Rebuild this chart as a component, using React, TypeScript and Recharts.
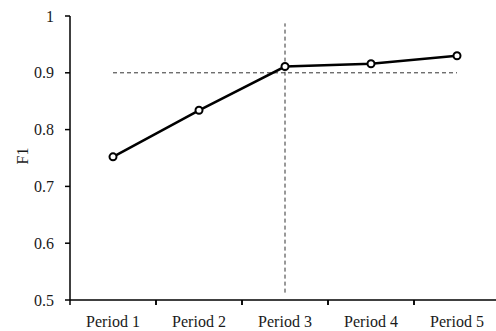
import React from 'react';
import { LineChart, Line, XAxis, YAxis, ReferenceLine } from 'recharts';

const categories = ['Period 1', 'Period 2', 'Period 3', 'Period 4', 'Period 5'];
const f1Values = [0.752, 0.834, 0.911, 0.916, 0.93];
const yTicks = [0.5, 0.6, 0.7, 0.8, 0.9, 1];
const thresholdY = 0.9;
const markerCategory = 'Period 3';
const markerRange = [0.513, 0.987];

const data = categories.map((c, i) => ({ period: c, f1: f1Values[i] }));

const FONT = 'Liberation Serif, Times New Roman, serif';

const XTick = (props: any) => {
  const { x, y, payload } = props;
  const off = payload && typeof payload.offset === 'number' ? payload.offset : 43;
  const axisY = y - 15;
  return (
    <g>
      <line x1={x - off} x2={x - off} y1={axisY} y2={axisY + 5} stroke="#000" strokeWidth={1.5} />
      <line x1={x + off} x2={x + off} y1={axisY} y2={axisY + 5} stroke="#000" strokeWidth={1.5} />
      <text x={x} y={axisY + 27} textAnchor="middle" fontFamily={FONT} fontSize={16} fill="#1a1a1a">
        {payload.value}
      </text>
    </g>
  );
};

const YLabel = (props: any) => {
  const vb = props.viewBox || { x: 30, y: 16, width: 40, height: 284 };
  const cx = vb.x - 8;
  const cy = vb.y + vb.height / 2 - 2;
  return (
    <text
      x={cx}
      y={cy}
      transform={`rotate(-90 ${cx} ${cy})`}
      textAnchor="middle"
      dominantBaseline="central"
      fontFamily={FONT}
      fontSize={16}
      fill="#1a1a1a"
    >
      F1
    </text>
  );
};

export default function App() {
  return (
    <div style={{ position: 'absolute', left: 0, top: 0, width: 496, height: 331, overflow: 'hidden', background: '#fff' }}>
      <LineChart width={500} height={331} data={data} margin={{ top: 16, right: 0, left: 30, bottom: 6 }}>
        <XAxis
          dataKey="period"
          scale="band"
          height={25}
          axisLine={{ stroke: '#000', strokeWidth: 1.5 }}
          tickLine={false}
          tickSize={5}
          tickMargin={10}
          tick={<XTick />}
          interval={0}
        />
        <YAxis
          type="number"
          domain={[0.5, 1]}
          ticks={yTicks}
          width={40}
          axisLine={{ stroke: '#000', strokeWidth: 1.5 }}
          tickLine={{ stroke: '#000', strokeWidth: 1.5 }}
          tickSize={5}
          tickMargin={11}
          tick={{ fontFamily: FONT, fontSize: 16, fill: '#1a1a1a' }}
          label={<YLabel />}
        />
        <ReferenceLine
          segment={[
            { x: categories[0], y: thresholdY },
            { x: categories[categories.length - 1], y: thresholdY },
          ]}
          stroke="#333"
          strokeWidth={1}
          strokeDasharray="4 3"
        />
        <ReferenceLine
          segment={[
            { x: markerCategory, y: markerRange[0] },
            { x: markerCategory, y: markerRange[1] },
          ]}
          stroke="#333"
          strokeWidth={1}
          strokeDasharray="4 3"
        />
        <Line
          type="linear"
          dataKey="f1"
          stroke="#000"
          strokeWidth={2.5}
          dot={{ r: 3.5, stroke: '#000', strokeWidth: 2, fill: '#fff' }}
          isAnimationActive={false}
        />
      </LineChart>
    </div>
  );
}
